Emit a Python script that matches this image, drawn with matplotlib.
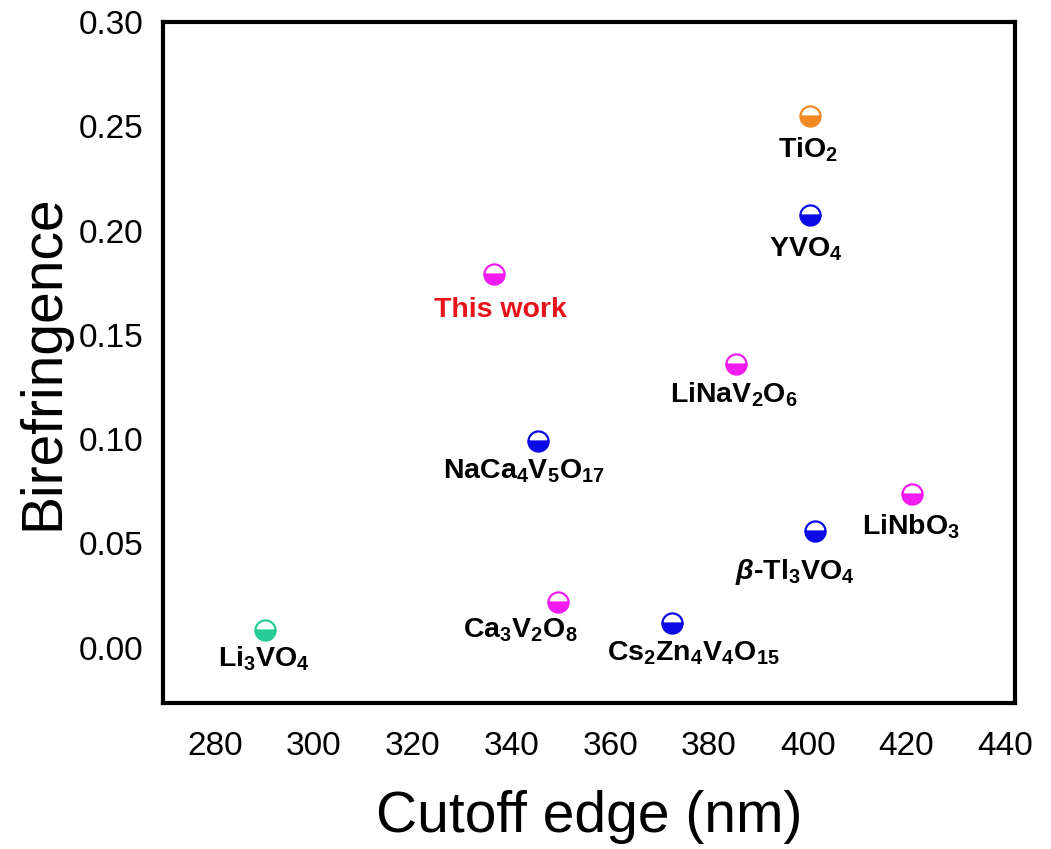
import matplotlib
matplotlib.use("Agg")
import matplotlib.pyplot as plt

plt.rcParams['font.family'] = ['Liberation Sans', 'DejaVu Sans']
plt.rcParams['mathtext.fontset'] = 'custom'
plt.rcParams['mathtext.rm'] = 'Liberation Sans:bold'
plt.rcParams['mathtext.bf'] = 'Liberation Sans:bold'
plt.rcParams['mathtext.it'] = 'Liberation Sans:bold:italic'

# datos
compuestos = [r'TiO$_\mathbf{2}$', r'YVO$_\mathbf{4}$', 'This work', r'LiNaV$_\mathbf{2}$O$_\mathbf{6}$',
              r'NaCa$_\mathbf{4}$V$_\mathbf{5}$O$_\mathbf{17}$', r'LiNbO$_\mathbf{3}$',
              r'$\beta$-Tl$_\mathbf{3}$VO$_\mathbf{4}$', r'Ca$_\mathbf{3}$V$_\mathbf{2}$O$_\mathbf{8}$',
              r'Cs$_\mathbf{2}$Zn$_\mathbf{4}$V$_\mathbf{4}$O$_\mathbf{15}$', r'Li$_\mathbf{3}$VO$_\mathbf{4}$']
corte = [400.5, 400.5, 336.5, 385.5, 345.5, 421, 401.5, 349.5, 372.5, 290.2]
birref = [0.255, 0.2075, 0.179, 0.136, 0.099, 0.0735, 0.056, 0.022, 0.012, 0.0087]
colores = ['#F18A24', '#0A0AE6', '#F21CF0', '#F21CF0', '#0A0AE6', '#F21CF0',
           '#0A0AE6', '#F21CF0', '#0A0AE6', '#26CC96']
# desplazamiento de la linea base de la etiqueta respecto al punto (pixeles)
desp = [(-2, 42), (-5, 42), (6, 43), (-2, 38), (-15, 37), (0, 40),
        (-20, 48), (-38, 36), (21, 38), (-1, 37)]
colores_texto = ['black', 'black', '#E8141B'] + ['black'] * 7

fig = plt.figure(figsize=(10.51, 8.49), dpi=100)
ax = fig.add_axes([0.155, 0.172, 0.811, 0.802])

for x, y, c, nombre, (dx, dy), ct in zip(corte, birref, colores, compuestos, desp, colores_texto):
    ax.plot(x, y, 'o', markersize=14.5, fillstyle='bottom', markerfacecolor=c,
            markerfacecoloralt='white', markeredgecolor=c, markeredgewidth=1.6)
    ax.annotate(nombre, (x, y), xytext=(dx * 0.72, -dy * 0.72), textcoords='offset points',
                ha='center', va='baseline', fontsize=20.5, fontweight='bold', color=ct)

ax.set_xlim(269.5, 442)
ax.set_ylim(-0.0265, 0.30)
ax.set_xticks(range(280, 441, 20))
ax.set_yticks([0, 0.05, 0.10, 0.15, 0.20, 0.25, 0.30])
ax.set_yticklabels(['0.00', '0.05', '0.10', '0.15', '0.20', '0.25', '0.30'])
ax.tick_params(length=0, labelsize=24)
ax.tick_params(axis='x', pad=20)
ax.tick_params(axis='y', pad=14)
for s in ax.spines.values():
    s.set_linewidth(3)

ax.set_xlabel('Cutoff edge (nm)', fontsize=41, labelpad=20)
ax.set_ylabel('Birefringence', fontsize=41, labelpad=6)

fig.savefig('out.png', dpi=100)
